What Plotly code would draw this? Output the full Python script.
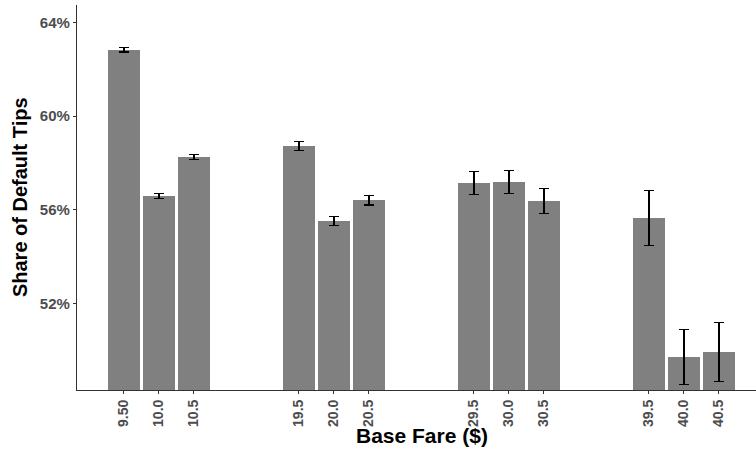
import plotly.graph_objects as go

# Base fares, grouped in blocks of three around each fare level
fare_labels = ["9.50", "10.0", "10.5",
               "19.5", "20.0", "20.5",
               "29.5", "30.0", "30.5",
               "39.5", "40.0", "40.5"]
share_default = [62.82, 56.58, 58.25,
                 58.72, 55.51, 56.41,
                 57.14, 57.18, 56.37,
                 55.64, 49.71, 49.92]
share_err = [0.09, 0.10, 0.10,
             0.19, 0.20, 0.21,
             0.48, 0.50, 0.53,
             1.17, 1.19, 1.25]
y_ticks = [52, 56, 60, 64]
y_tick_text = [f"{v}%" for v in y_ticks]

# Place bars: three per group, with a two-slot gap between groups
x_pos = [(i // 3) * 5 + (i % 3) for i in range(len(fare_labels))]

fig = go.Figure(go.Bar(
    x=x_pos,
    y=share_default,
    width=0.91,
    marker=dict(color="#808080", line=dict(width=0)),
    error_y=dict(type="data", array=share_err, visible=True,
                 color="black", thickness=1.2, width=5),
))

font_main = "Liberation Sans, Arial, Helvetica, sans-serif"

fig.update_layout(
    width=756, height=449,
    margin=dict(l=77, r=0, t=5, b=59),
    paper_bgcolor="white",
    plot_bgcolor="white",
    showlegend=False,
    bargap=0,
    font=dict(family=font_main),
    xaxis=dict(
        range=[-1.34, 18.06],
        tickvals=x_pos,
        ticktext=fare_labels,
        tickangle=-90,
        tickfont=dict(size=14, color="#4d4d4d", family=font_main, weight="bold"),
        ticks="outside", ticklen=3, tickcolor="#333333", tickwidth=1,
        ticklabelstandoff=0,
        showline=True, linecolor="#333333", linewidth=1.2,
        showgrid=False, zeroline=False,
    ),
    yaxis=dict(
        range=[48.30, 64.74],
        tickvals=y_ticks,
        ticktext=y_tick_text,
        tickfont=dict(size=15, color="#4d4d4d", family=font_main, weight="bold"),
        ticks="outside", ticklen=3, tickcolor="#333333", tickwidth=1,
        showline=True, linecolor="#333333", linewidth=1.2,
        showgrid=False, zeroline=False,
    ),
    annotations=[
        dict(text="Base Fare ($)", xref="paper", yref="paper",
             x=0.508, y=-0.117, xanchor="center", yanchor="middle",
             showarrow=False,
             font=dict(size=21, color="black", family=font_main, weight="bold")),
        dict(text="Share of Default Tips", xref="paper", yref="paper",
             x=-0.084, y=0.501, xanchor="center", yanchor="middle",
             textangle=-90, showarrow=False,
             font=dict(size=20, color="black", family=font_main, weight="bold")),
    ],
)

fig.write_html("out.html")
